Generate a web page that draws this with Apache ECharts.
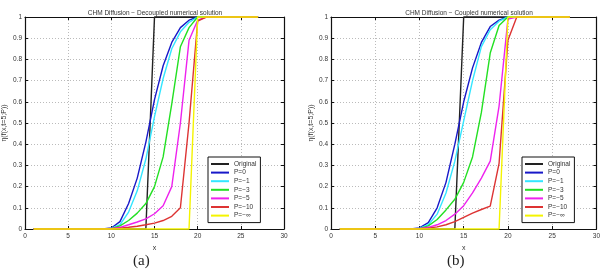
<!DOCTYPE html>
<html>
<head>
<meta charset="utf-8">
<script src="https://cdn.jsdelivr.net/npm/echarts@6/dist/echarts.min.js"></script>
<style>
  html, body { margin: 0; padding: 0; background: #fff; }
  #main { width: 603px; height: 273px; }
</style>
</head>
<body>
<div id="main"></div>
<script>
// sample positions along x (same for every curve)
var xs = [1, 2, 3, 4, 5, 6, 7, 8, 9, 10, 11, 12, 13, 14, 15, 16, 17, 18, 19, 20, 21, 22, 23, 24, 25, 26, 27];

var names = ['Original', 'P=0', 'P=\u22121', 'P=\u22123', 'P=\u22125', 'P=\u221210', 'P=\u2212\u221e'];
var colors = ['#222222', '#1818c8', '#33e6ff', '#22e022', '#ee22ee', '#dd3333', '#f4f400'];

// shared step curves
var original = [0, 0, 0, 0, 0, 0, 0, 0, 0, 0, 0, 0, 0, 0, 1, 1, 1, 1, 1, 1, 1, 1, 1, 1, 1, 1, 1];
var pInf     = [0, 0, 0, 0, 0, 0, 0, 0, 0, 0, 0, 0, 0, 0, 0, 0, 0, 0, 0, 1, 1, 1, 1, 1, 1, 1, 1];

// (a) decoupled
var decP0   = [0, 0, 0, 0, 0, 0, 0, 0, 0, 0.005, 0.035, 0.12, 0.24, 0.41, 0.61, 0.77, 0.88, 0.95, 0.985, 1, 1, 1, 1, 1, 1, 1, 1];
var decP1   = [0, 0, 0, 0, 0, 0, 0, 0, 0, 0.003, 0.02, 0.08, 0.18, 0.33, 0.53, 0.71, 0.85, 0.93, 0.975, 1, 1, 1, 1, 1, 1, 1, 1];
var decP3   = [0, 0, 0, 0, 0, 0, 0, 0, 0, 0.002, 0.015, 0.04, 0.075, 0.12, 0.2, 0.34, 0.59, 0.86, 0.95, 1, 1, 1, 1, 1, 1, 1, 1];
var decP5   = [0, 0, 0, 0, 0, 0, 0, 0, 0, 0.001, 0.008, 0.02, 0.033, 0.048, 0.072, 0.11, 0.2, 0.5, 0.89, 0.985, 1, 1, 1, 1, 1, 1, 1];
var decP10  = [0, 0, 0, 0, 0, 0, 0, 0, 0, 0.001, 0.004, 0.008, 0.013, 0.02, 0.028, 0.04, 0.06, 0.1, 0.5, 0.98, 1, 1, 1, 1, 1, 1, 1];

// (b) coupled
var cplP0   = [0, 0, 0, 0, 0, 0, 0, 0, 0, 0.005, 0.03, 0.1, 0.22, 0.4, 0.6, 0.76, 0.88, 0.955, 0.985, 1, 1, 1, 1, 1, 1, 1, 1];
var cplP1   = [0, 0, 0, 0, 0, 0, 0, 0, 0, 0.003, 0.02, 0.07, 0.17, 0.32, 0.51, 0.7, 0.86, 0.94, 0.98, 1, 1, 1, 1, 1, 1, 1, 1];
var cplP3   = [0, 0, 0, 0, 0, 0, 0, 0, 0, 0.002, 0.015, 0.045, 0.09, 0.14, 0.22, 0.34, 0.55, 0.83, 0.96, 1, 1, 1, 1, 1, 1, 1, 1];
var cplP5   = [0, 0, 0, 0, 0, 0, 0, 0, 0, 0.001, 0.008, 0.02, 0.04, 0.07, 0.11, 0.17, 0.24, 0.32, 0.58, 0.99, 1, 1, 1, 1, 1, 1, 1];
var cplP10  = [0, 0, 0, 0, 0, 0, 0, 0, 0, 0.001, 0.004, 0.01, 0.02, 0.035, 0.055, 0.075, 0.092, 0.108, 0.31, 0.89, 1, 1, 1, 1, 1, 1, 1];

var xTicks = { min: 0, max: 30, interval: 5 };
var yTicks = { min: 0, max: 1, interval: 0.1 };

var decoupled = [original, decP0, decP1, decP3, decP5, decP10, pInf];
var coupled = [original, cplP0, cplP1, cplP3, cplP5, cplP10, pInf];

var font = 'Liberation Sans';

function yFmt(v) {
  if (v === 0) return '0';
  if (Math.abs(v - 1) < 1e-9) return '1';
  return v.toFixed(1);
}

function pair(vals) {
  return xs.map(function (x, i) { return [x, vals[i]]; });
}

var grids = [
  { left: 17, right: 319, top: 17, bottom: 44 },
  { left: 331, right: 6, top: 17, bottom: 44 }
];

var xAxes = [], yAxes = [], series = [];
grids.forEach(function (g, gi) {
  var gridStyle = { show: true, lineStyle: { color: '#bbbbbb', type: [1, 2], width: 1 } };
  xAxes.push({
    type: 'value', gridIndex: gi, min: xTicks.min, max: xTicks.max, interval: xTicks.interval,
    name: 'x', nameLocation: 'middle', nameGap: 11,
    nameTextStyle: { fontFamily: font, fontSize: 7, color: '#333' },
    axisLine: { show: true, onZero: false, lineStyle: { color: '#111', width: 1.2 } },
    axisTick: { show: true, inside: true, length: 3, lineStyle: { color: '#111' } },
    axisLabel: { fontFamily: font, fontSize: 6.5, color: '#333', margin: 4 },
    splitLine: gridStyle
  });
  xAxes.push({
    type: 'value', gridIndex: gi, position: 'top', min: xTicks.min, max: xTicks.max, interval: xTicks.interval,
    axisLine: { show: true, onZero: false, lineStyle: { color: '#111', width: 1.2 } },
    axisTick: { show: true, inside: true, length: 3, lineStyle: { color: '#111' } },
    axisLabel: { show: false }, splitLine: { show: false }
  });
  yAxes.push({
    type: 'value', gridIndex: gi, min: yTicks.min, max: yTicks.max, interval: yTicks.interval,
    name: '\u03b7(f(x,t=5;P))', nameLocation: 'middle', nameGap: gi === 0 ? 17 : 16, nameRotate: 90,
    nameTextStyle: { fontFamily: font, fontSize: 7, color: '#333' },
    axisLine: { show: true, onZero: false, lineStyle: { color: '#111', width: 1.2 } },
    axisTick: { show: true, inside: true, length: 3, lineStyle: { color: '#111' } },
    axisLabel: { fontFamily: font, fontSize: 6.5, color: '#333', margin: 3, formatter: yFmt },
    splitLine: gridStyle
  });
  yAxes.push({
    type: 'value', gridIndex: gi, position: 'right', min: yTicks.min, max: yTicks.max, interval: yTicks.interval,
    axisLine: { show: true, onZero: false, lineStyle: { color: '#111', width: 1.2 } },
    axisTick: { show: true, inside: true, length: 3, lineStyle: { color: '#111' } },
    axisLabel: { show: false }, splitLine: { show: false }
  });
  var sets = gi === 0 ? decoupled : coupled;
  sets.forEach(function (vals, si) {
    series.push({
      name: names[si], type: 'line', xAxisIndex: gi * 2, yAxisIndex: gi * 2,
      data: pair(vals), showSymbol: false, symbol: 'none', clip: false,
      lineStyle: { color: colors[si], width: 1.4 }, itemStyle: { color: colors[si] },
      z: 3 + si, animation: false
    });
  });
});

function legendAt(left) {
  return {
    left: left, top: 157, orient: 'vertical', data: names,
    backgroundColor: '#fff', borderColor: '#111', borderWidth: 1, padding: [3, 4, 3, 3],
    itemWidth: 18, itemHeight: 2, itemGap: 0.6, icon: 'rect', selectedMode: false,
    textStyle: { fontFamily: font, fontSize: 6.5, color: '#333', lineHeight: 8 }
  };
}

var option = {
  backgroundColor: '#fff',
  animation: false,
  title: [
    { text: 'CHM Diffusion \u2212 Decoupled numerical solution', left: 150, top: 5, textAlign: 'center',
      textStyle: { fontFamily: font, fontSize: 6.5, fontWeight: 'normal', color: '#333' } },
    { text: 'CHM Diffusion \u2212 Coupled numerical solution', left: 464, top: 5, textAlign: 'center',
      textStyle: { fontFamily: font, fontSize: 6.5, fontWeight: 'normal', color: '#333' } }
  ],
  legend: [legendAt(208), legendAt(522)],
  grid: grids,
  xAxis: xAxes,
  yAxis: yAxes,
  series: series,
  graphic: [
    { type: 'text', left: 133, top: 254, style: { text: '(a)', fontFamily: 'Liberation Serif', fontSize: 15, fill: '#222' } },
    { type: 'text', left: 447, top: 254, style: { text: '(b)', fontFamily: 'Liberation Serif', fontSize: 15, fill: '#222' } }
  ]
};

var chart = echarts.init(document.getElementById('main'));
chart.setOption(option);
</script>
</body>
</html>
